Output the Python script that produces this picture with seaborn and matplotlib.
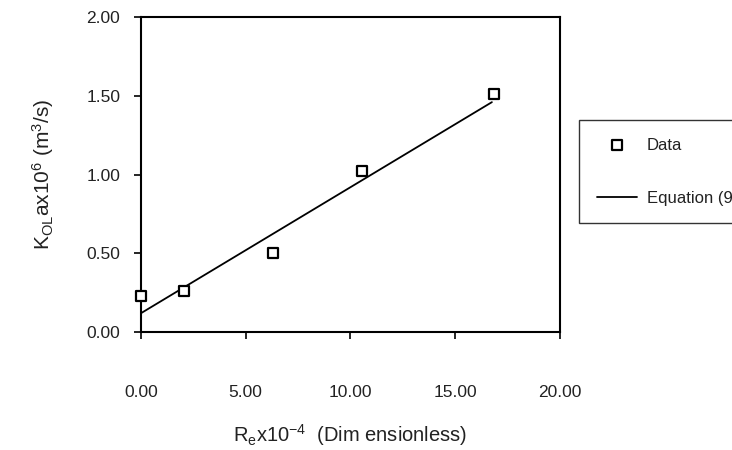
import matplotlib
matplotlib.use("Agg")
import matplotlib.pyplot as plt
import seaborn as sns
import pandas as pd

# Data
re_values = [0.0, 2.05, 6.28, 10.53, 16.87]
kola_values = [0.23, 0.26, 0.50, 1.02, 1.51]
eq_x = [0.0, 16.75]
eq_y = [0.12, 1.46]
x_ticks = [0, 5, 10, 15, 20]
y_ticks = [0.0, 0.5, 1.0, 1.5, 2.0]

sns.set_style("ticks")
plt.rcParams['font.family'] = ['Liberation Sans', 'DejaVu Sans']
plt.rcParams['mathtext.fontset'] = 'custom'
plt.rcParams['mathtext.rm'] = 'Liberation Sans'
plt.rcParams['mathtext.it'] = 'Liberation Sans'

df = pd.DataFrame({"x": re_values, "y": kola_values})
df_eq = pd.DataFrame({"x": eq_x, "y": eq_y})

fig = plt.figure(figsize=(7.32, 4.5), dpi=100)
ax = fig.add_axes([0.1926, 0.262, 0.5724, 0.7])

sns.scatterplot(data=df, x="x", y="y", ax=ax, marker="s", s=60,
                facecolor="white", edgecolor="black", linewidth=1.6,
                label="Data", zorder=3, clip_on=False)
sns.lineplot(data=df_eq, x="x", y="y", ax=ax, color="black", linewidth=1.3,
             label="Equation (9)", zorder=2)

ax.set_xlim(0, 20)
ax.set_ylim(0, 2)
ax.set_xticks(x_ticks)
ax.set_yticks(y_ticks)
ax.set_xticklabels([f"{v:.2f}" for v in x_ticks])
ax.set_yticklabels([f"{v:.2f}" for v in y_ticks])
ax.tick_params(axis='both', labelsize=12.5, colors='black', length=5, width=1.2,
               labelcolor='#222222')
ax.tick_params(axis='x', pad=33)
ax.tick_params(axis='y', pad=10)
for sp in ax.spines.values():
    sp.set_visible(True)
    sp.set_linewidth(1.5)
    sp.set_color('black')

ax.set_xlabel(r"$\mathregular{R_e x10^{-4}}$  (Dim ensionless)", fontsize=14.5,
              color='#222222', labelpad=16)
ax.set_ylabel(r"$\mathregular{K_{OL}ax10^{6}\ (m^{3}/s)}$", fontsize=15,
              color='#222222', labelpad=22)

ax.get_legend().remove()
handles, labels = ax.get_legend_handles_labels()
leg = fig.legend(handles, labels, loc='upper left', bbox_to_anchor=(0.791, 0.733),
                 frameon=True, fancybox=False, edgecolor='black', fontsize=12,
                 handlelength=2.45, handletextpad=0.55,
                 labelspacing=2.3, borderpad=1.05, borderaxespad=0)
leg.get_frame().set_linewidth(1.0)
for t in leg.get_texts():
    t.set_color('#222222')

fig.savefig("out.png", dpi=100)
